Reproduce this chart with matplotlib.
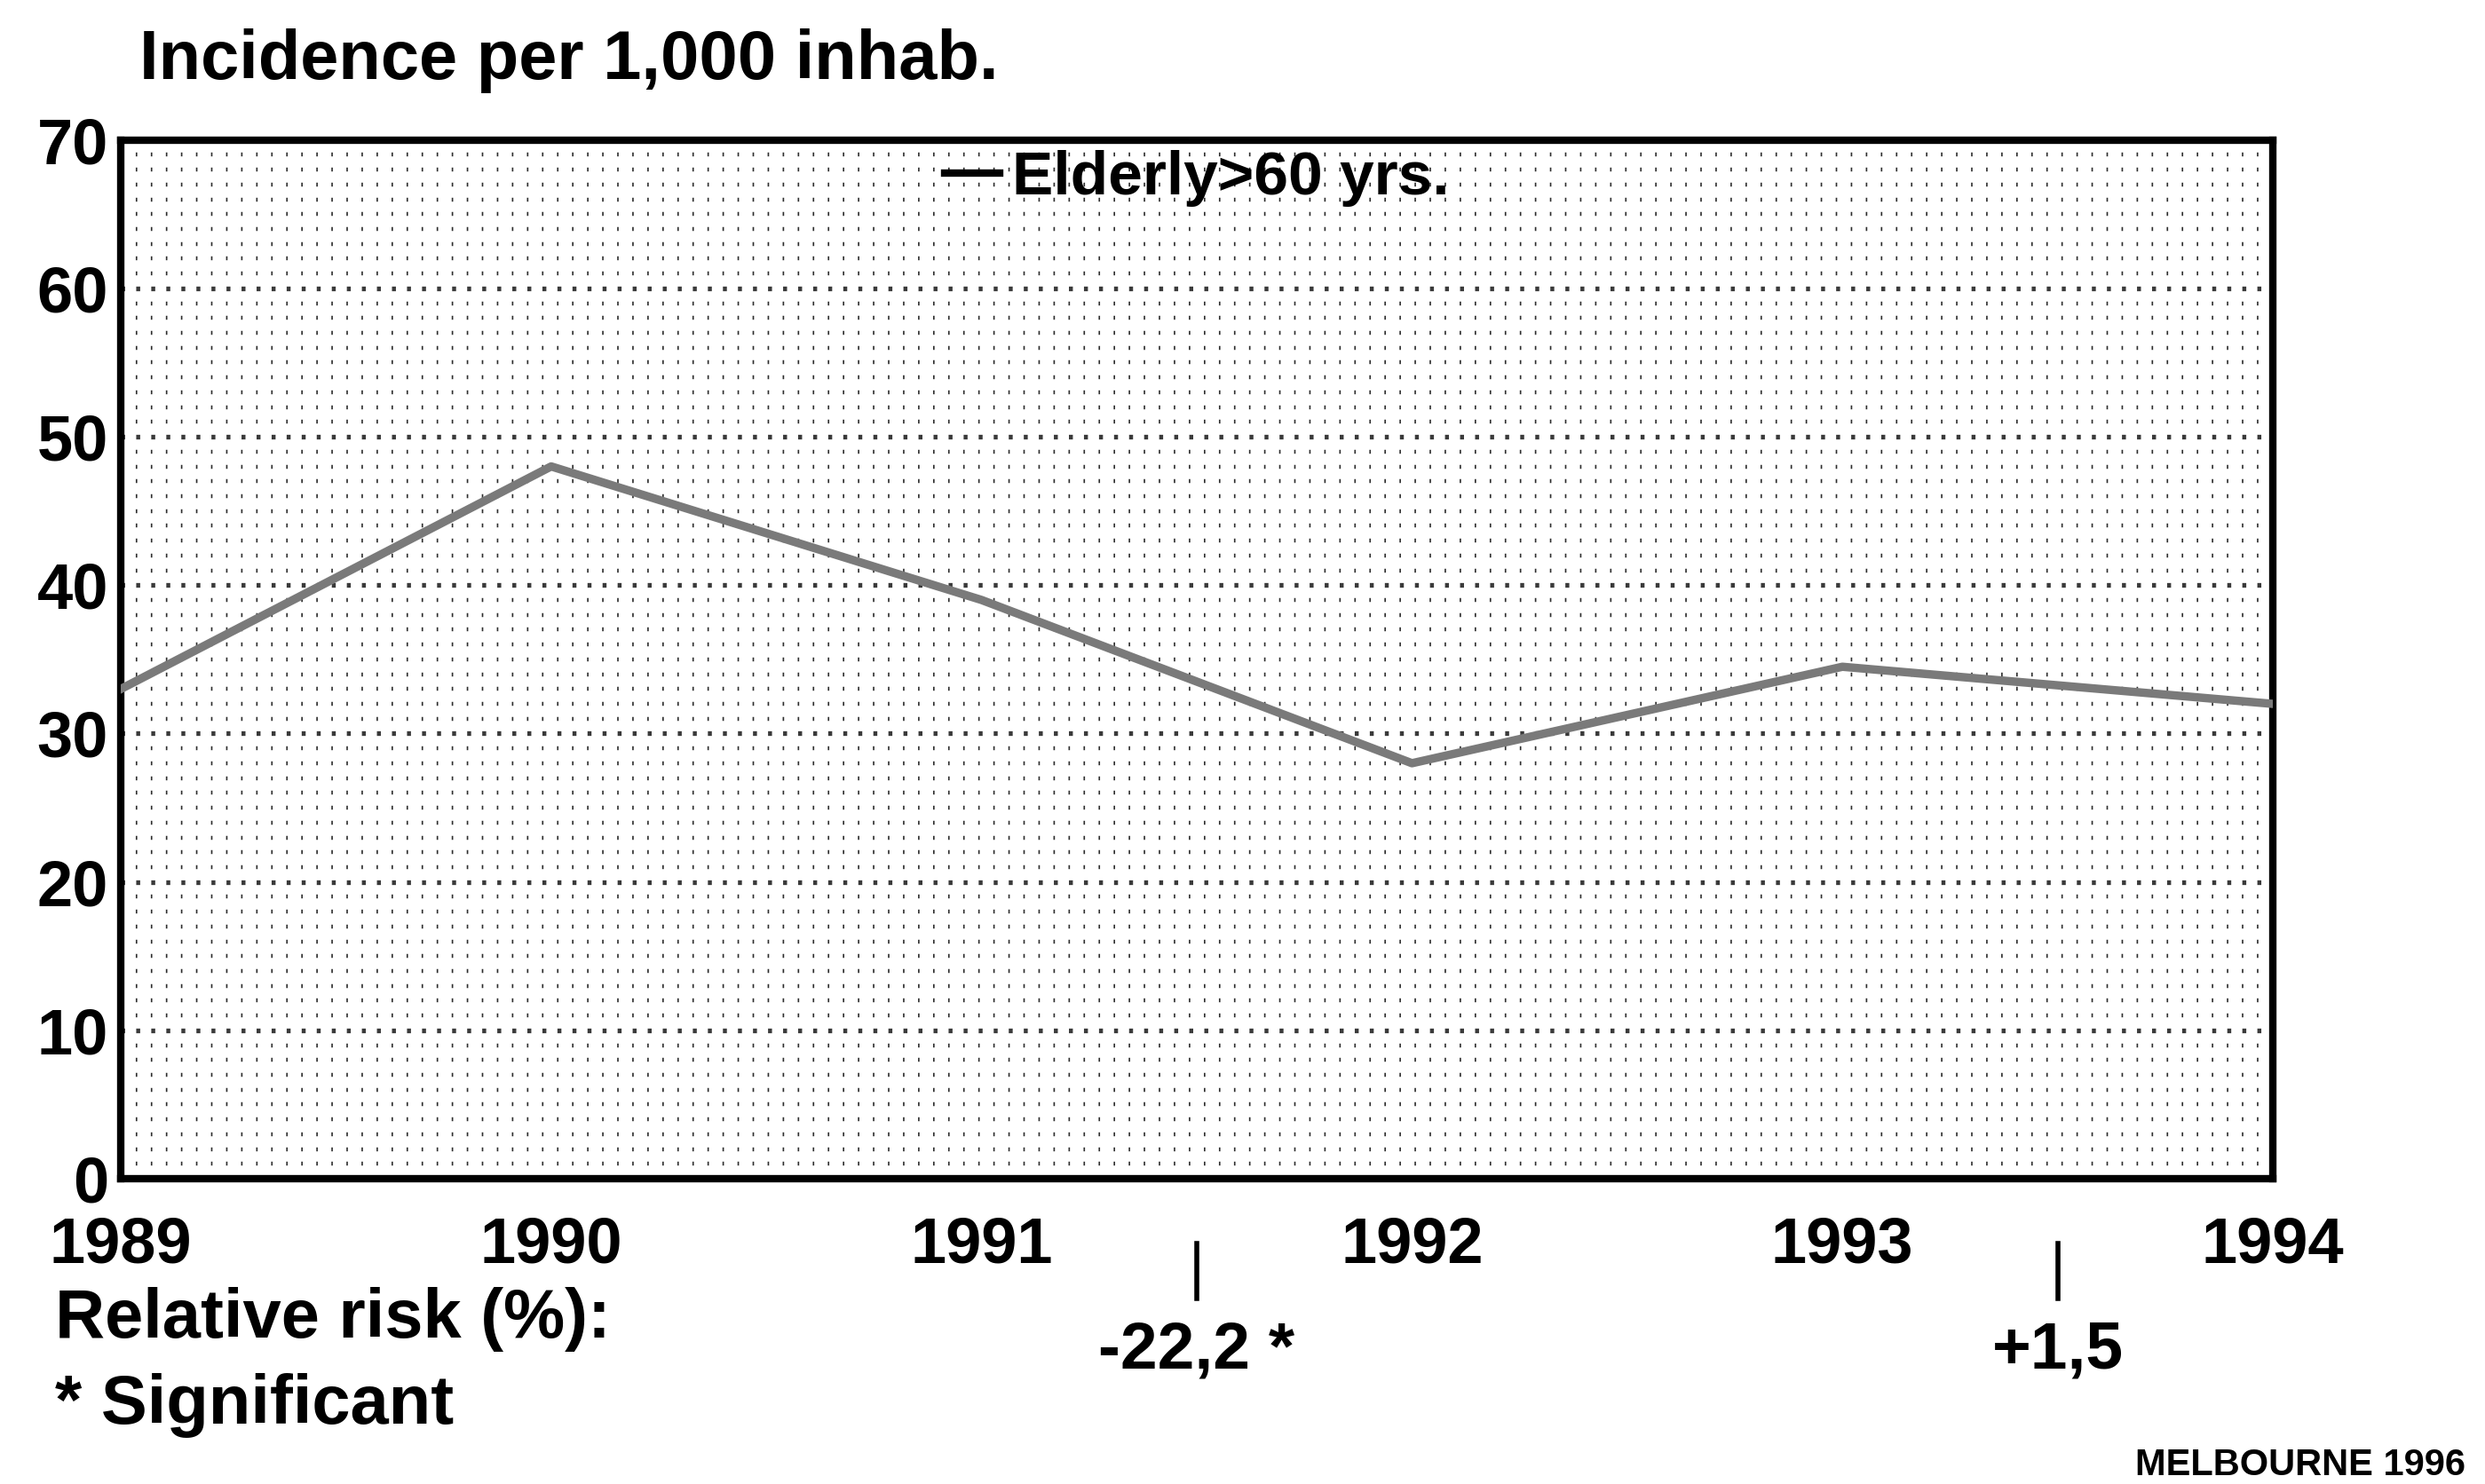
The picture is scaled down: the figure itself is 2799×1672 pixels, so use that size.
import matplotlib
matplotlib.use("Agg")
import matplotlib.pyplot as plt
import matplotlib.transforms as mtransforms
from matplotlib.lines import Line2D
from matplotlib.ticker import MultipleLocator

plt.rcParams['font.family'] = ['Liberation Sans', 'DejaVu Sans']
plt.rcParams['font.weight'] = 'bold'
plt.rcParams['lines.scale_dashes'] = False

# data
years = [1989, 1990, 1991, 1992, 1993, 1994]
incidence = [33, 48, 39, 28, 34.5, 32]
series_label = "Elderly>60 yrs."
y_ticks = [0, 10, 20, 30, 40, 50, 60, 70]
risk_pos = [1991.5, 1993.5]
risk_text = ["-22,2 *", "+1,5"]

fig = plt.figure(figsize=(13.995, 8.36), dpi=200)
ax = fig.add_axes([0.0486, 0.2057, 0.866, 0.700])

ax.plot(years, incidence, color='#7a7a7a', lw=3.4, zorder=3)

ax.set_xlim(1989, 1994)
ax.set_ylim(0, 70)
ax.set_xticks(years)
ax.set_xticklabels([str(y) for y in years])
ax.set_yticks(y_ticks)
ax.yaxis.set_minor_locator(MultipleLocator(1))

# dotted background raster + heavier dashed rows every 10
ax.grid(which='minor', axis='y', color='#2e2e2e', lw=1.6, linestyle=(0, (0.6, 5.5)))
ax.grid(which='major', axis='y', color='#3a3a3a', lw=1.9, linestyle=(0, (1.6, 4.5)))
ax.set_axisbelow(True)

ax.tick_params(axis='x', which='both', length=0, pad=15, labelsize=26)
ax.tick_params(axis='y', which='both', length=0, pad=5, labelsize=26)
for sp in ax.spines.values():
    sp.set_linewidth(3.0)

ax.legend(handles=[Line2D([], [], color='black', lw=3)], labels=[series_label],
          loc='center', bbox_to_anchor=(0.5, 0.963), frameon=False, fontsize=25,
          handlelength=0.9, handletextpad=0.2)

fig.text(0.056, 0.959, "Incidence per 1,000 inhab.", fontsize=28, va='center', ha='left')

# relative risk marks between years
trans = mtransforms.blended_transform_factory(ax.transData, fig.transFigure)
for p, t in zip(risk_pos, risk_text):
    ax.plot([p, p], [0.162, 0.125], transform=trans, clip_on=False, color='black', lw=2)
    ax.text(p, 0.09, t, transform=trans, ha='center', va='center', fontsize=27)

fig.text(0.022, 0.111, "Relative risk (%):", fontsize=28, va='center', ha='left')
fig.text(0.022, 0.053, "* Significant", fontsize=28, va='center', ha='left')
fig.text(0.992, 0.0126, "MELBOURNE 1996", fontsize=15, va='center', ha='right')

fig.savefig("out.png", dpi=200)
